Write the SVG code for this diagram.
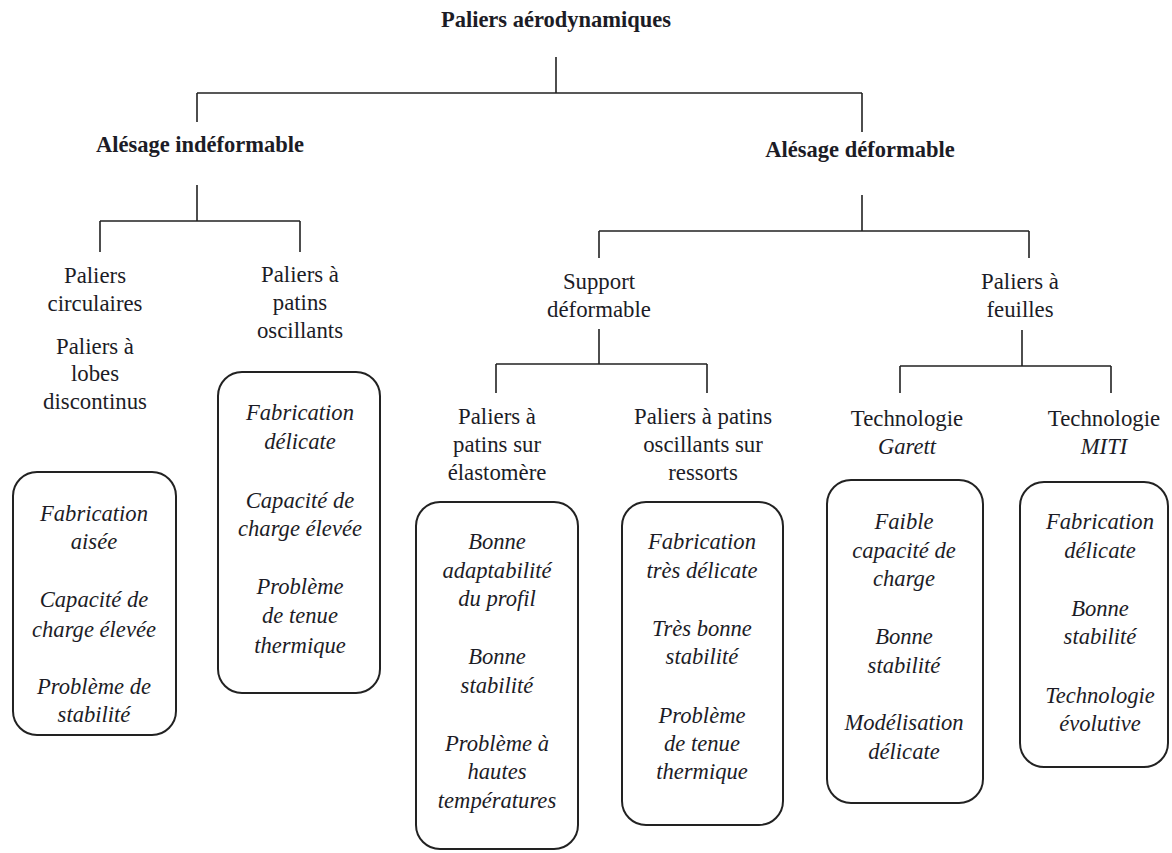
<svg xmlns="http://www.w3.org/2000/svg" width="1172" height="853" viewBox="0 0 1172 853">
<style>
text{font-family:"Liberation Serif","Times New Roman",serif;fill:#1c1c26;text-anchor:middle;font-size:22.8px}
.b{font-weight:bold;font-size:22.5px}
.i{font-style:italic;font-size:22.6px}
.ln{stroke:#222;stroke-width:1.6;fill:none}
.box{stroke:#222;stroke-width:2;fill:none}
</style>
<rect width="1172" height="853" fill="#fff"/>
<g id="connectors" class="ln">
<path d="M556 57V93M197 93H862M197 93V122M862 93V132"/>
<path d="M197 185V221M100 221H300M100 221V252M300 221V252"/>
<path d="M862 195V231M599 231H1029M599 231V258M1029 231V258"/>
<path d="M599 329V364M496 364H707M496 364V393M707 364V393"/>
<path d="M1022 330V366M900 366H1111M900 366V393M1111 366V393"/>
</g>
<g id="root"><text class="b" x="556" y="27">Paliers aérodynamiques</text></g>
<g id="indef"><text class="b" x="200" y="152">Alésage indéformable</text></g>
<g id="def"><text class="b" x="860" y="157">Alésage déformable</text></g>
<g id="circ">
<text x="95" y="283">Paliers</text><text x="95" y="311">circulaires</text>
<text x="95" y="354">Paliers à</text><text x="95" y="381">lobes</text><text x="95" y="409">discontinus</text>
</g>
<g id="patins">
<text x="300" y="282">Paliers à</text><text x="300" y="310">patins</text><text x="300" y="338">oscillants</text>
</g>
<g id="box1">
<rect class="box" x="13" y="472" width="163" height="263" rx="24"/>
<text class="i" x="94" y="521">Fabrication</text><text class="i" x="94" y="549">aisée</text>
<text class="i" x="94" y="607">Capacité de</text><text class="i" x="94" y="637">charge élevée</text>
<text class="i" x="94" y="694">Problème de</text><text class="i" x="94" y="722">stabilité</text>
</g>
<g id="box2">
<rect class="box" x="218" y="372" width="162" height="321" rx="24"/>
<text class="i" x="300" y="420">Fabrication</text><text class="i" x="300" y="449">délicate</text>
<text class="i" x="300" y="508">Capacité de</text><text class="i" x="300" y="536">charge élevée</text>
<text class="i" x="300" y="594">Problème</text><text class="i" x="300" y="623">de tenue</text><text class="i" x="300" y="653">thermique</text>
</g>
<g id="support"><text x="599" y="289">Support</text><text x="599" y="317">déformable</text></g>
<g id="feuilles"><text x="1020" y="289">Paliers à</text><text x="1020" y="317">feuilles</text></g>
<g id="elast"><text x="497" y="424">Paliers à</text><text x="497" y="452">patins sur</text><text x="497" y="480">élastomère</text></g>
<g id="ressorts"><text x="703" y="424">Paliers à patins</text><text x="703" y="452">oscillants sur</text><text x="703" y="480">ressorts</text></g>
<g id="garett"><text x="907" y="426">Technologie</text><text class="i" x="907" y="454">Garett</text></g>
<g id="miti"><text x="1104" y="426">Technologie</text><text class="i" x="1104" y="454">MITI</text></g>
<g id="box3">
<rect class="box" x="416" y="502" width="162" height="347" rx="24"/>
<text class="i" x="497" y="549">Bonne</text><text class="i" x="497" y="578">adaptabilité</text><text class="i" x="497" y="606">du profil</text>
<text class="i" x="497" y="664">Bonne</text><text class="i" x="497" y="693">stabilité</text>
<text class="i" x="497" y="751">Problème à</text><text class="i" x="497" y="779">hautes</text><text class="i" x="497" y="808">températures</text>
</g>
<g id="box4">
<rect class="box" x="622" y="502" width="161" height="323" rx="24"/>
<text class="i" x="702" y="549">Fabrication</text><text class="i" x="702" y="578">très délicate</text>
<text class="i" x="702" y="636">Très bonne</text><text class="i" x="702" y="664">stabilité</text>
<text class="i" x="702" y="723">Problème</text><text class="i" x="702" y="751">de tenue</text><text class="i" x="702" y="779">thermique</text>
</g>
<g id="box5">
<rect class="box" x="827" y="480" width="156" height="323" rx="24"/>
<text class="i" x="904" y="529">Faible</text><text class="i" x="904" y="558">capacité de</text><text class="i" x="904" y="586">charge</text>
<text class="i" x="904" y="644">Bonne</text><text class="i" x="904" y="673">stabilité</text>
<text class="i" x="904" y="730">Modélisation</text><text class="i" x="904" y="759">délicate</text>
</g>
<g id="box6">
<rect class="box" x="1020" y="482" width="148" height="285" rx="24"/>
<text class="i" x="1100" y="529">Fabrication</text><text class="i" x="1100" y="558">délicate</text>
<text class="i" x="1100" y="616">Bonne</text><text class="i" x="1100" y="644">stabilité</text>
<text class="i" x="1100" y="703">Technologie</text><text class="i" x="1100" y="731">évolutive</text>
</g>
</svg>
